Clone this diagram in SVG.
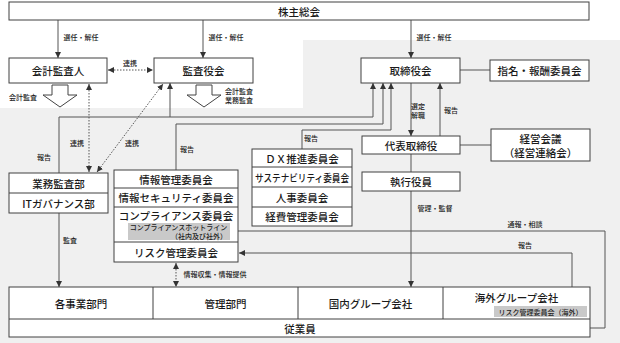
<svg xmlns="http://www.w3.org/2000/svg" width="620" height="343" viewBox="0 0 620 343">
<style>
.bx{fill:#fff;stroke:#404040;stroke-width:1}
.dv{stroke:#404040;stroke-width:1;fill:none}
.t{font-family:"Noto Sans CJK JP","Noto Sans",sans-serif;font-size:10.5px;font-weight:500;fill:#1a1a1a;text-anchor:middle;dominant-baseline:central}
.s{font-family:"Noto Sans CJK JP","Noto Sans",sans-serif;font-size:7px;font-weight:500;fill:#222;text-anchor:middle;dominant-baseline:central}
.ln{fill:none;stroke:#555;stroke-width:1}
.dt{fill:none;stroke:#555;stroke-width:1;stroke-dasharray:1.5 1.5}
.gl{fill:#c9c9c9}
.ha{fill:#fff;stroke:#444;stroke-width:1}
</style>
<defs>
<marker id="ar" markerUnits="userSpaceOnUse" markerWidth="6" markerHeight="6" refX="5" refY="2.5" orient="auto-start-reverse" viewBox="0 0 5 5">
<path d="M0,0 L5,2.5 L0,5 Z" fill="#333"/>
</marker>
</defs>
<rect width="620" height="343" fill="#fff"/>
<path d="M0,108 H303 V40 H620 V343 H0 Z" fill="#f0f0f0"/>

<g id="connectors">
<path class="ln" d="M58,20 V58" marker-end="url(#ar)"/>
<path class="ln" d="M203,20 V58" marker-end="url(#ar)"/>
<path class="ln" d="M411,20 V58" marker-end="url(#ar)"/>
<path class="ln" d="M460,70 H490"/>
<path class="dt" d="M108,70 H153" marker-start="url(#ar)" marker-end="url(#ar)"/>
<path class="dt" d="M89,84 V172" marker-start="url(#ar)" marker-end="url(#ar)"/>
<path class="dt" d="M97,172 L163,84" marker-start="url(#ar)" marker-end="url(#ar)"/>
<path class="ln" d="M59,173 V117 H373 V83" marker-end="url(#ar)"/>
<path class="ln" d="M170,117 V83" marker-end="url(#ar)"/>
<path class="ln" d="M176,170 V124 H383 V83" marker-end="url(#ar)"/>
<path class="ln" d="M302,149 V130 H391 V83" marker-end="url(#ar)"/>
<path class="ln" d="M411,83 V136" marker-end="url(#ar)"/>
<path class="ln" d="M440,136 V83" marker-end="url(#ar)"/>
<path class="ln" d="M460,145 H491"/>
<path class="ln" d="M411,154 V172"/>
<path class="ln" d="M411,191 V287" marker-end="url(#ar)"/>
<path class="ln" d="M590,328 H605 V231 H231" marker-end="url(#ar)"/>
<path class="ln" d="M572,306 V253 H239" marker-end="url(#ar)"/>
<path class="ln" d="M59,213 V287" marker-end="url(#ar)"/>
<path class="dt" d="M176,263 V287" marker-start="url(#ar)" marker-end="url(#ar)"/>
<path class="ha" d="M52,85 H68 V95 H77 L60,107 L43,95 H52 Z"/>
<path class="ha" d="M196,85 H212 V95 H221 L204,107 L187,95 H196 Z"/>
<text class="s" x="81" y="37">選任・解任</text>
<text class="s" x="226" y="37">選任・解任</text>
<text class="s" x="434" y="37">選任・解任</text>
<text class="s" x="130" y="63">連携</text>
<text class="s" x="23" y="97">会計監査</text>
<text class="s" x="239" y="91">会計監査</text>
<text class="s" x="239" y="99.5">業務監査</text>
<text class="s" x="77" y="143">連携</text>
<text class="s" x="132" y="143">連携</text>
<text class="s" x="44" y="157">報告</text>
<text class="s" x="187" y="149">報告</text>
<text class="s" x="311" y="138">報告</text>
<text class="s" x="418" y="106">選定</text>
<text class="s" x="418" y="114.5">解職</text>
<text class="s" x="451" y="110">報告</text>
<text class="s" x="435" y="208">管理・監督</text>
<text class="s" x="525" y="224">通報・相談</text>
<text class="s" x="525" y="245">報告</text>
<text class="s" x="70" y="240">監査</text>
<text class="s" x="215" y="274">情報収集・情報提供</text>
</g>

<g id="kabunushi">
<rect class="bx" x="9" y="2" width="580" height="18"/>
<text class="t" x="299" y="11">株主総会</text>
</g>
<g id="kaikei-kansanin">
<rect class="bx" x="9" y="58" width="98" height="25"/>
<text class="t" x="58" y="70.5">会計監査人</text>
</g>
<g id="kansayakukai">
<rect class="bx" x="154" y="58" width="99" height="25"/>
<text class="t" x="203.5" y="70.5">監査役会</text>
</g>
<g id="torishimariyakukai">
<rect class="bx" x="361" y="58" width="99" height="25"/>
<text class="t" x="410.5" y="70.5">取締役会</text>
</g>
<g id="shimei">
<rect class="bx" x="490" y="60" width="99" height="21"/>
<text class="t" x="539.5" y="70.5">指名・報酬委員会</text>
</g>
<g id="gyomu-kansa">
<rect class="bx" x="9" y="173" width="99" height="40"/>
<path class="dv" d="M9,193 H108"/>
<text class="t" x="58.5" y="183">業務監査部</text>
<text class="t" x="58.5" y="203">ITガバナンス部</text>
</g>
<g id="johokanri">
<rect class="bx" x="114" y="170" width="124" height="92"/>
<path class="dv" d="M114,188 H238 M114,207 H238 M114,242 H238"/>
<text class="t" x="176" y="179">情報管理委員会</text>
<text class="t" x="176" y="197.5">情報セキュリティ委員会</text>
<text class="t" x="176" y="215">コンプライアンス委員会</text>
<rect class="gl" x="128" y="223" width="102" height="17"/>
<text class="s" x="178.5" y="227">コンプライアンスホットライン</text>
<text class="s" x="199" y="235.5">（社内及び社外）</text>
<text class="t" x="176" y="252">リスク管理委員会</text>
</g>
<g id="dx">
<rect class="bx" x="252" y="149" width="100" height="77"/>
<path class="dv" d="M252,167 H352 M252,187 H352 M252,207 H352"/>
<text class="t" x="302" y="158">ＤＸ推進委員会</text>
<text class="t" x="302" y="177" textLength="94" lengthAdjust="spacingAndGlyphs">サステナビリティ委員会</text>
<text class="t" x="302" y="197">人事委員会</text>
<text class="t" x="302" y="216.5">経費管理委員会</text>
</g>
<g id="daihyo">
<rect class="bx" x="362" y="136" width="98" height="18"/>
<text class="t" x="411" y="145">代表取締役</text>
</g>
<g id="keiei-kaigi">
<rect class="bx" x="491" y="129" width="99" height="32"/>
<text class="t" x="540.5" y="138.5">経営会議</text>
<text class="t" x="540.5" y="152.5">（経営連絡会）</text>
</g>
<g id="shikko">
<rect class="bx" x="362" y="172" width="98" height="19"/>
<text class="t" x="411" y="181.5">執行役員</text>
</g>
<g id="bottom">
<rect class="bx" x="9" y="287" width="581" height="50"/>
<path class="dv" d="M9,319 H590 M153,287 V319 M298,287 V319 M443,287 V319"/>
<text class="t" x="81" y="303">各事業部門</text>
<text class="t" x="225.5" y="303">管理部門</text>
<text class="t" x="370.5" y="303">国内グループ会社</text>
<text class="t" x="516.5" y="297">海外グループ会社</text>
<rect class="gl" x="494" y="306" width="93" height="11"/>
<text class="s" x="540.5" y="311.5">リスク管理委員会（海外）</text>
<text class="t" x="300" y="328">従業員</text>
</g>
</svg>
